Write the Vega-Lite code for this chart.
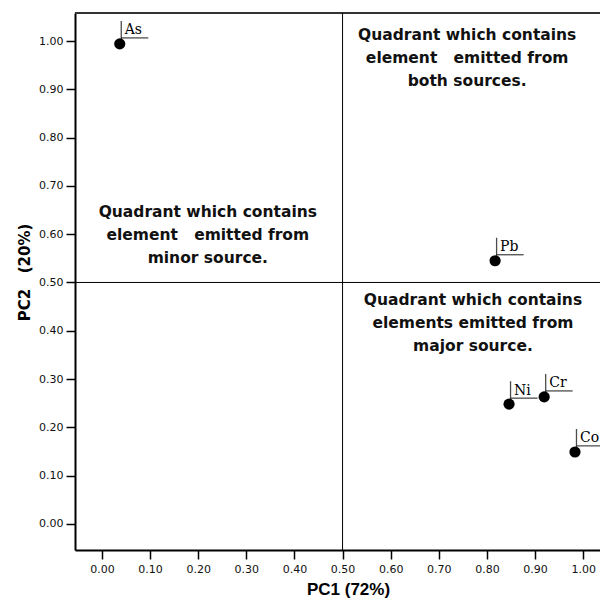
{
  "$schema": "https://vega.github.io/schema/vega-lite/v6.json",
  "width": 525,
  "height": 537,
  "autosize": {"type": "none"},
  "padding": {"left": 75, "top": 13, "right": 0, "bottom": 50},
  "background": "white",
  "config": {
    "view": {"stroke": null},
    "axis": {
      "grid": false,
      "domainColor": "black",
      "domainWidth": 2,
      "tickColor": "black",
      "tickWidth": 1.5,
      "tickSize": 9,
      "labelFont": "DejaVu Sans",
      "labelFontSize": 11,
      "labelColor": "#111",
      "labelPadding": 3,
      "titleFont": "Liberation Sans",
      "titleFontSize": 17,
      "titleFontWeight": "bold",
      "titleColor": "black"
    }
  },
  "datasets": {
    "pts": [
      {"element": "As", "PC1": 0.037, "PC2": 0.994},
      {"element": "Pb", "PC1": 0.817, "PC2": 0.545},
      {"element": "Ni", "PC1": 0.846, "PC2": 0.248},
      {"element": "Cr", "PC1": 0.919, "PC2": 0.263},
      {"element": "Co", "PC1": 0.983, "PC2": 0.149}
    ],
    "notes": [
      {"PC1": 0.759, "PC2": 1.012, "label": ["Quadrant which contains", "element \u00a0 emitted from", "both sources."]},
      {"PC1": 0.22, "PC2": 0.646, "label": ["Quadrant which contains", "element \u00a0 emitted from", "minor source."]},
      {"PC1": 0.771, "PC2": 0.464, "label": ["Quadrant which contains", "elements emitted from", "major source."]}
    ]
  },
  "layer": [
    {
      "data": {"values": [{}]},
      "mark": {"type": "rule", "color": "#333", "strokeWidth": 2},
      "encoding": {"y": {"datum": 1.058, "type": "quantitative", "scale": {"domain": [-0.054, 1.058], "nice": false, "zero": false}}}
    },
    {
      "data": {"values": [{}]},
      "mark": {"type": "rule", "color": "black", "strokeWidth": 1},
      "encoding": {"x": {"datum": 0.5, "type": "quantitative"}}
    },
    {
      "data": {"values": [{}]},
      "mark": {"type": "rule", "color": "black", "strokeWidth": 1},
      "encoding": {"y": {"datum": 0.5, "type": "quantitative"}}
    },
    {
      "data": {"name": "notes"},
      "mark": {"type": "text", "font": "DejaVu Sans", "fontWeight": "bold", "fontSize": 15.5, "lineHeight": 23, "align": "center", "baseline": "middle", "color": "#111"},
      "encoding": {
        "x": {"field": "PC1", "type": "quantitative"},
        "y": {"field": "PC2", "type": "quantitative"},
        "text": {"field": "label"}
      }
    },
    {
      "data": {"name": "pts"},
      "mark": {"type": "tick", "orient": "vertical", "size": 23, "thickness": 1.3, "color": "black", "yOffset": -11.5, "xOffset": 1.5},
      "encoding": {
        "x": {"field": "PC1", "type": "quantitative"},
        "y": {"field": "PC2", "type": "quantitative"}
      }
    },
    {
      "data": {"name": "pts"},
      "mark": {"type": "tick", "orient": "horizontal", "size": 27, "thickness": 1.3, "color": "black", "yOffset": -6, "xOffset": 15},
      "encoding": {
        "x": {"field": "PC1", "type": "quantitative"},
        "y": {"field": "PC2", "type": "quantitative"}
      }
    },
    {
      "data": {"name": "pts"},
      "mark": {"type": "text", "font": "DejaVu Serif", "fontSize": 14, "align": "left", "baseline": "alphabetic", "dx": 5, "dy": -9.5, "color": "black"},
      "encoding": {
        "x": {"field": "PC1", "type": "quantitative"},
        "y": {"field": "PC2", "type": "quantitative"},
        "text": {"field": "element"}
      }
    },
    {
      "data": {"name": "pts"},
      "mark": {"type": "circle", "size": 125, "color": "black", "opacity": 1},
      "encoding": {
        "x": {
          "field": "PC1", "type": "quantitative", "title": "PC1 (72%)",
          "scale": {"domain": [-0.056, 1.035], "nice": false, "zero": false},
          "axis": {"values": [0, 0.1, 0.2, 0.3, 0.4, 0.5, 0.6, 0.7, 0.8, 0.9, 1.0], "format": ".2f", "labelPadding": 4, "titlePadding": 7, "titleX": 273}
        },
        "y": {
          "field": "PC2", "type": "quantitative", "title": "PC2\u00a0\u00a0 (20%)",
          "axis": {"values": [0, 0.1, 0.2, 0.3, 0.4, 0.5, 0.6, 0.7, 0.8, 0.9, 1.0], "format": ".2f", "titlePadding": 6, "titleY": 259, "titleFont": "DejaVu Sans", "titleFontSize": 15}
        }
      }
    }
  ]
}
